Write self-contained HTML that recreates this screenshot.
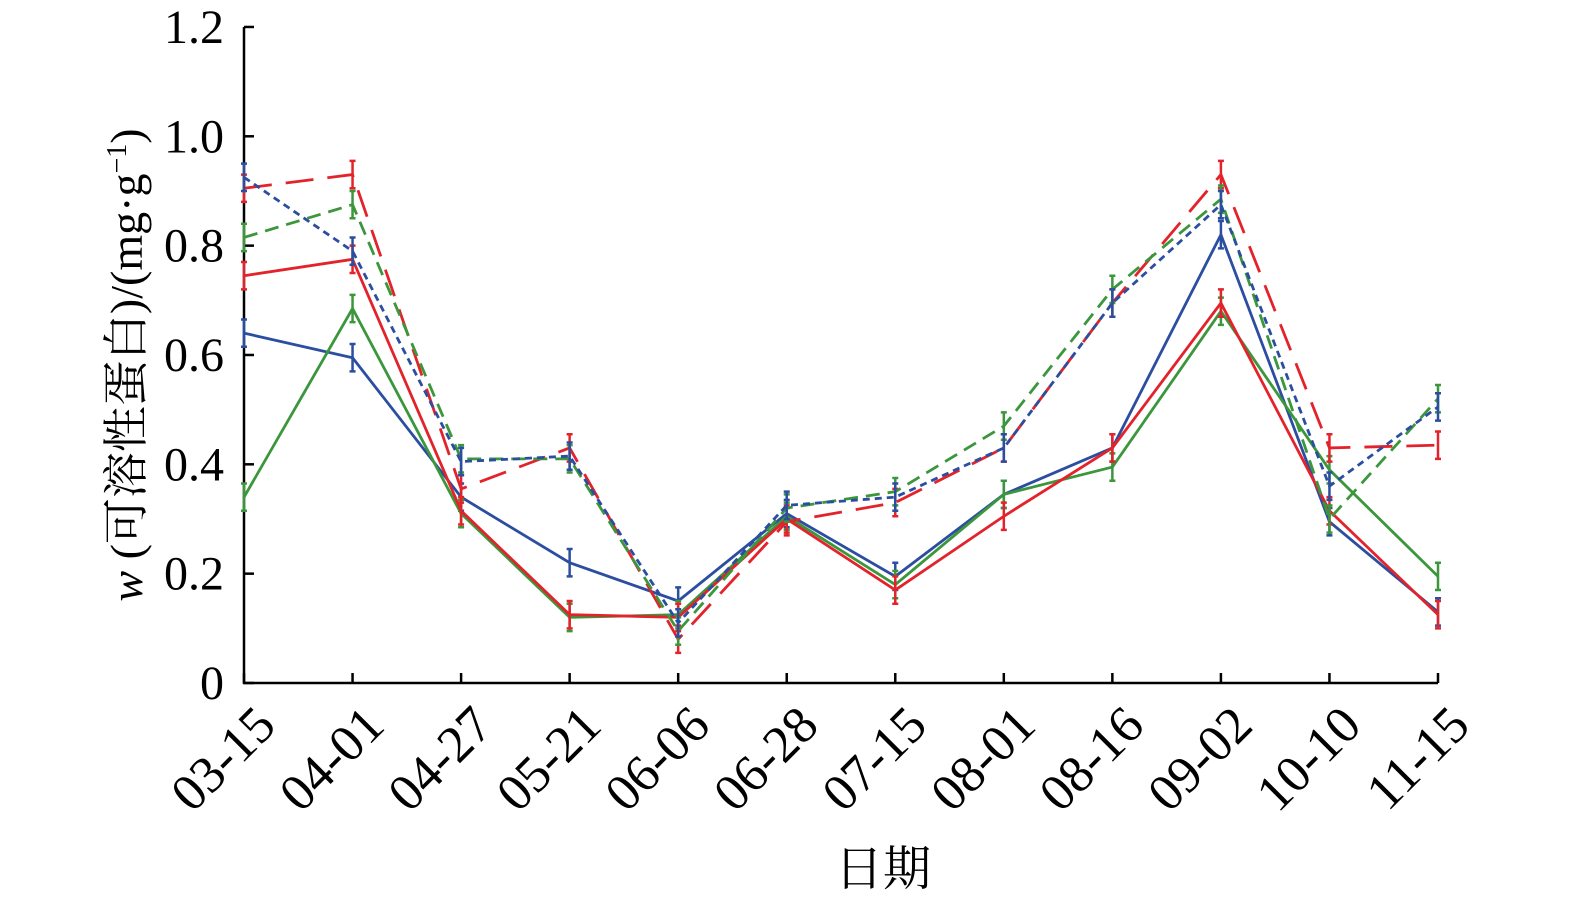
<!DOCTYPE html>
<html><head><meta charset="utf-8"><style>body{margin:0;background:#fff}svg{display:block}</style></head>
<body>
<svg id="s" width="1575" height="902" xmlns="http://www.w3.org/2000/svg" font-family="Liberation Serif, Noto Serif CJK SC, serif">
<g id="g"></g>
</svg>
<script>
const g=document.getElementById('g');
const X0=244,DX=(1438-244)/11,Y=v=>683-v*546.7;
let h='';
h+=`<path d="M244 27V683H1438" fill="none" stroke="#000" stroke-width="2.5"/>`;
[0,0.2,0.4,0.6,0.8,1.0,1.2].forEach(v=>{const y=Y(v);h+=`<line x1="244" x2="254" y1="${y}" y2="${y}" stroke="#000" stroke-width="2.5"/><text x="224" y="${y+16}" font-size="48" text-anchor="end">${v===0?'0':v.toFixed(1)}</text>`;});
const lab=['03-15','04-01','04-27','05-21','06-06','06-28','07-15','08-01','08-16','09-02','10-10','11-15'];
lab.forEach((l,i)=>{const x=X0+i*DX;h+=`<line x1="${x}" x2="${x}" y1="683" y2="673" stroke="#000" stroke-width="2.5"/><text transform="translate(${x+10},${704}) rotate(-45)" font-size="52" text-anchor="end" dy="34">${l}</text>`;});
h+=`<text x="883" y="885" font-size="48" text-anchor="middle" font-family="Noto Serif CJK SC, serif">日期</text>`;
h+=`<text transform="translate(142,365) rotate(-90)" font-size="46" text-anchor="middle"><tspan font-style="italic">w</tspan> (<tspan font-family="Noto Serif CJK SC, serif">可溶性蛋白</tspan>)/(mg·g<tspan font-size="28" dy="-16">−1</tspan><tspan dy="16">)</tspan></text>`;
const R='#e3232b',B='#2b4ea0',G='#3b963c';
const S=[
[B,'',[0.64,0.595,0.34,0.22,0.15,0.31,0.195,0.345,0.43,0.82,0.295,0.13]],
[G,'',[0.34,0.685,0.31,0.12,0.125,0.305,0.18,0.345,0.395,0.68,0.39,0.195]],
[R,'',[0.745,0.775,0.315,0.125,0.12,0.30,0.17,0.305,0.43,0.695,0.315,0.125]],
[R,'28 14',[0.905,0.93,0.355,0.43,0.08,0.295,0.33,0.43,0.695,0.93,0.43,0.435]],
[G,'14 8',[0.815,0.875,0.41,0.41,0.095,0.32,0.35,0.47,0.72,0.885,0.30,0.52]],
[B,'7 5',[0.925,0.79,0.405,0.415,0.11,0.325,0.34,0.43,0.695,0.875,0.36,0.505]],
];
S.forEach(([c,d,vs])=>{
 const pts=vs.map((v,i)=>`${X0+i*DX},${Y(v)}`).join(' ');
 h+=`<polyline points="${pts}" fill="none" stroke="${c}" stroke-width="2.8" ${d?`stroke-dasharray="${d}"`:''}/>`;
 vs.forEach((v,i)=>{const x=X0+i*DX,e=0.025;h+=`<path d="M${x} ${Y(v+e)}V${Y(v-e)}M${x-3} ${Y(v+e)}h6M${x-3} ${Y(v-e)}h6" stroke="${c}" stroke-width="2.5" fill="none"/>`;});
});
g.innerHTML=h;
</script>
</body></html>
